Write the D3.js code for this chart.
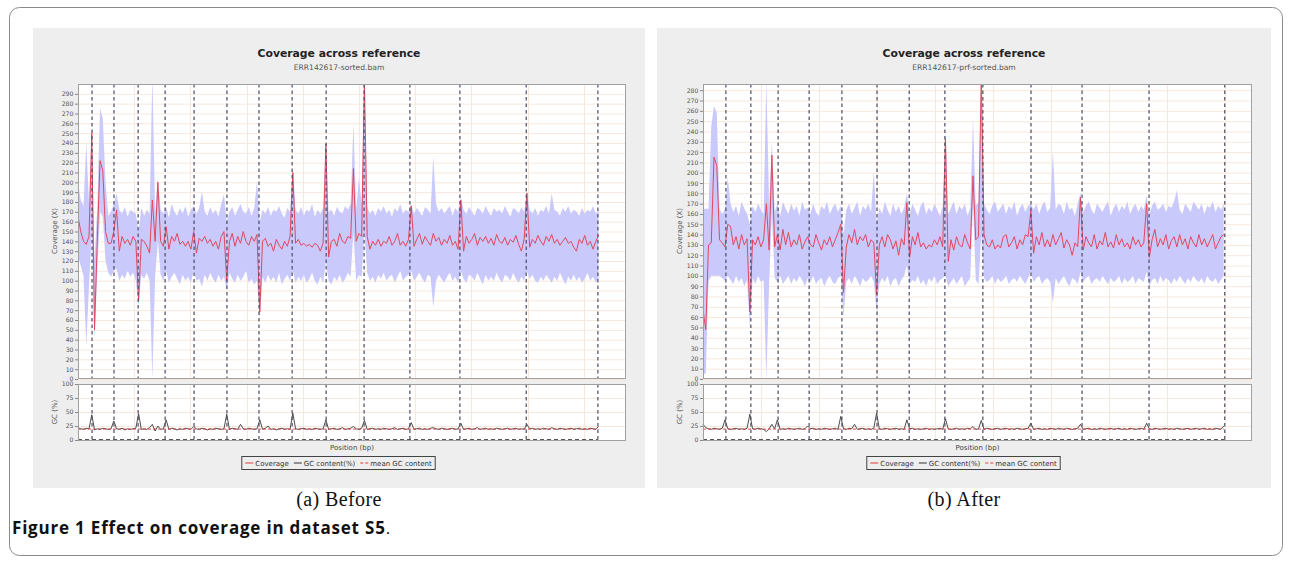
<!DOCTYPE html>
<html><head><meta charset="utf-8">
<script src="https://cdn.jsdelivr.net/npm/d3@7"></script>
<style>body{margin:0;background:#fff}svg{display:block}</style>
</head><body><svg id="c" width="1290" height="562"></svg>
<script>
// ---- data (window size in kb, one value per window) ----
const binKbA = 9.8, binKbB = 9.5;
const xMaxA = 1950, xMaxB = 1893;        // kb shown on x axis
const yMaxA = 300, yMaxB = 286;          // coverage axis maximum
const yTickMaxA = 290, yTickMaxB = 280;
const gcTicks = [0, 25, 50, 75, 100];
const boundariesA = [50,128,214,310,413,530,644,762,883,1018,1181,1359,1595,1850];
const boundariesB = [79,165,259,366,479,600,711,834,965,1131,1307,1538,1799];
const meanGcA = 19.5, meanGcB = 19.5;

const covMeanA = [
165,150,140,137,145,250,50,140,222,212,
150,138,138,150,172,130,145,138,142,136,
145,140,80,142,140,135,128,182,140,200,
140,135,155,132,145,140,148,137,140,135,
140,132,150,128,143,140,145,138,142,135,
140,132,145,150,100,140,148,135,145,138,
150,140,136,145,140,147,68,140,143,135,
138,130,142,136,132,140,135,145,210,138,
142,136,138,135,137,134,138,136,130,138,
239,124,140,142,135,148,140,138,145,143,
214,140,148,145,305,145,132,140,136,142,
135,140,138,145,136,140,148,136,140,135,
142,176,135,142,148,137,145,140,136,148,
140,144,136,142,138,146,136,140,132,182,
130,145,138,142,148,136,144,140,145,138,
143,136,147,140,138,144,136,142,139,146,
137,130,142,189,134,142,138,146,140,136,
145,140,147,138,142,136,140,144,138,140,
134,130,142,138,146,136,140,132,140,146];
const covUpperA = [
200,182,176,240,178,255,120,175,275,265,
200,166,170,178,189,172,168,175,165,172,
170,168,150,174,166,172,168,310,170,205,
172,168,175,164,178,170,166,174,168,176,
165,172,176,168,174,191,170,166,175,168,
172,165,178,188,160,170,175,166,172,178,
170,168,175,166,174,201,160,172,168,175,
166,172,170,176,168,164,174,170,215,172,
168,175,166,172,170,178,165,172,168,174,
240,170,172,166,175,170,168,176,172,178,
260,172,205,178,305,175,168,172,166,174,
170,176,168,172,165,174,170,178,168,172,
170,178,168,174,170,166,175,172,168,226,
178,170,174,168,172,176,166,174,170,185,
172,168,175,170,166,174,172,168,176,170,
166,174,170,172,168,176,170,165,174,172,
168,175,170,190,172,168,174,166,172,170,
176,168,189,172,170,166,174,170,176,168,
172,170,166,174,168,172,170,176,168,172];
const covLowerA = [
125,115,105,33,95,150,40,110,170,165,
120,108,104,110,112,100,106,102,110,104,
108,100,75,106,102,108,100,0,104,140,
106,100,110,98,104,108,102,96,106,100,
104,98,110,100,102,94,106,100,108,102,
98,106,100,104,90,108,102,98,106,100,
104,110,98,102,96,100,62,104,98,106,
100,104,98,108,96,102,106,100,110,98,
104,100,106,98,102,108,100,96,104,98,
120,100,96,104,100,106,98,102,108,104,
150,100,106,104,150,108,100,104,98,106,
102,108,100,104,106,98,104,110,100,104,
106,110,100,104,108,102,98,106,104,73,
100,106,102,98,104,108,100,104,98,110,
102,98,106,104,100,108,102,96,106,100,
104,100,108,102,98,106,104,100,108,102,
98,104,100,110,102,106,100,98,104,100,
106,102,98,104,100,108,102,96,104,100,
106,100,104,98,102,108,100,104,98,102];
const gcA = [
22,20,19,21,20,45,18,20,19,21,
20,19,20,34,20,19,21,18,20,19,
20,21,47,19,20,19,22,28,16,25,
19,20,36,19,21,20,18,20,19,21,
20,19,24,20,19,21,20,18,20,19,
21,20,19,20,46,19,21,20,19,28,
20,19,21,20,19,20,36,19,21,25,
19,20,18,20,21,19,20,19,48,20,
19,20,21,19,20,19,21,20,19,20,
36,19,20,21,19,20,22,19,20,21,
24,20,19,21,35,19,20,21,19,20,
19,21,20,19,20,22,19,20,21,19,
20,31,19,20,21,19,20,19,21,22,
20,19,21,20,19,20,21,19,20,30,
19,20,21,19,20,22,19,20,21,19,
20,19,21,20,19,20,21,19,20,21,
19,20,19,28,20,21,19,20,19,21,
20,19,22,20,19,21,20,19,20,21,
19,20,21,19,20,19,21,20,19,24];

const covMeanB = [
67,48,130,132,215,207,135,132,128,150,
148,130,138,126,140,130,136,65,135,130,
138,128,135,170,125,217,128,140,125,145,
130,142,128,135,130,140,126,133,138,130,
128,140,132,125,135,130,138,128,135,142,
150,84,128,140,132,145,130,138,134,140,
128,135,132,82,130,138,128,140,135,126,
134,120,136,130,171,118,138,130,142,128,
132,126,130,128,135,130,138,128,233,114,
135,125,138,130,128,140,132,126,197,135,
138,295,140,130,128,135,126,130,127,138,
140,128,132,138,126,135,130,140,138,163,
122,138,130,142,128,135,128,140,130,136,
142,127,135,130,120,132,128,176,125,138,
132,128,140,126,134,130,142,128,133,127,
140,130,136,128,132,126,138,130,135,128,
132,170,118,135,145,128,136,130,140,126,
134,138,128,140,130,136,126,138,132,128,
140,130,136,128,134,140,126,132,138,140];
const covUpperB = [
165,165,165,245,265,258,165,160,165,195,
170,162,168,158,172,165,160,150,168,162,
170,164,160,290,168,230,162,170,158,172,
165,160,170,163,168,158,172,164,166,160,
170,162,158,168,164,172,160,166,170,162,
168,140,164,170,160,166,172,158,168,164,
170,162,202,150,166,160,172,164,158,170,
162,168,160,166,180,160,170,164,158,168,
172,160,166,162,170,164,158,168,240,160,
166,172,160,168,164,170,158,166,252,168,
172,295,170,164,160,168,172,162,166,170,
160,168,164,172,158,166,170,162,168,170,
164,170,160,168,172,162,166,220,164,170,
168,160,172,164,166,158,170,180,162,168,
172,164,160,170,166,162,168,172,158,166,
170,162,168,164,172,160,166,170,162,168,
164,178,160,168,172,164,166,170,162,168,
166,172,183,164,160,170,166,162,172,168,
164,170,160,168,166,172,162,168,164,170];
const covLowerB = [
5,5,95,100,100,100,100,98,95,100,
96,92,100,94,98,90,96,50,98,92,
100,94,96,0,92,160,98,94,100,92,
96,100,92,98,94,100,96,90,98,94,
100,92,96,98,90,96,100,94,92,98,
100,60,94,98,92,100,96,90,98,94,
96,100,94,65,92,98,94,100,90,96,
98,90,96,100,110,92,96,94,100,92,
96,90,98,94,100,92,96,98,100,90,
94,98,92,96,100,90,94,98,170,96,
92,140,98,94,96,100,92,98,94,96,
100,92,96,98,94,100,96,92,98,104,
94,98,100,92,96,98,94,74,98,92,
96,100,94,90,98,96,92,104,94,98,
100,92,96,98,94,100,96,92,98,94,
96,100,92,98,94,96,100,92,98,96,
94,104,90,96,98,92,100,94,98,96,
92,98,94,100,96,92,98,94,100,96,
94,98,92,100,96,94,98,92,96,100];
const gcB = [
28,22,20,19,21,20,19,21,36,20,
19,20,21,19,20,19,21,46,20,19,
21,20,19,15,20,28,20,36,19,20,
19,21,20,19,20,21,19,20,25,20,
21,19,20,19,21,20,19,20,21,19,
42,20,19,21,20,28,19,20,21,19,
20,19,21,48,20,19,21,20,19,20,
21,19,20,19,36,20,21,19,20,19,
20,21,19,20,19,20,21,19,38,20,
19,20,21,19,20,19,21,20,24,19,
20,35,19,21,20,19,20,21,19,20,
21,19,20,19,21,20,19,20,21,30,
19,20,21,19,20,19,21,20,19,21,
20,19,21,20,19,20,21,28,19,20,
21,19,20,19,21,20,19,20,21,19,
20,21,19,20,19,21,20,19,20,21,
19,30,20,19,21,20,19,20,21,19,
20,19,21,20,19,20,21,19,20,21,
19,20,21,19,20,19,21,20,19,25];

const titleText = "Coverage across reference";
const subtitleA = "ERR142617-sorted.bam", subtitleB = "ERR142617-prf-sorted.bam";
const captionA = "(a) Before", captionB = "(b) After";
const legendItems = ["Coverage", "GC content(%)", "mean GC content"];

// ---- drawing ----
const svg = d3.select("#c");
const SANS = "'DejaVu Sans', sans-serif";

svg.append("rect").attr("x", 9.5).attr("y", 7.5).attr("width", 1273).attr("height", 548)
  .attr("rx", 10).attr("fill", "#fff").attr("stroke", "#8a8a8a").attr("stroke-width", 1);

function panel(o) {
  const g = svg.append("g");
  g.append("rect").attr("x", o.px0).attr("y", 28).attr("width", o.px1 - o.px0).attr("height", 460).attr("fill", "#eeeeee");
  const cx = (o.px0 + o.px1) / 2;
  g.append("text").attr("x", cx).attr("y", 57).attr("text-anchor", "middle")
    .attr("font-family", SANS).attr("font-weight", "bold").attr("font-size", 10.8).attr("fill", "#222").text(titleText);
  g.append("text").attr("x", cx).attr("y", 69.5).attr("text-anchor", "middle")
    .attr("font-family", SANS).attr("font-size", 7.6).attr("fill", "#555").text(o.subtitle);

  const x = d3.scaleLinear().domain([0, o.xMax]).range([o.L, o.R]);
  const y = d3.scaleLinear().domain([0, o.yMax]).range([379, 84]);
  const yg = d3.scaleLinear().domain([0, 100]).range([440, 384]);
  const grid = "#f8e8dc";
  const dataEnd = (o.mean.length - 1) * o.bin;

  const id = "clip" + o.key;
  svg.append("clipPath").attr("id", id).append("rect").attr("x", o.L).attr("y", 84).attr("width", o.R - o.L).attr("height", 295);

  // coverage plot
  g.append("rect").attr("x", o.L).attr("y", 84).attr("width", o.R - o.L).attr("height", 295).attr("fill", "#fff");
  const yt = d3.range(0, o.yTickMax + 1, 10);
  g.append("g").selectAll("line").data(yt).join("line")
    .attr("x1", o.L).attr("x2", o.R).attr("y1", d => y(d) + 0.5).attr("y2", d => y(d) + 0.5)
    .attr("stroke", grid).attr("stroke-width", 1);
  const xt = d3.range(200, o.xMax, 200);
  g.append("g").selectAll("line").data(xt).join("line")
    .attr("x1", d => Math.round(x(d)) + 0.5).attr("x2", d => Math.round(x(d)) + 0.5).attr("y1", 84).attr("y2", 379)
    .attr("stroke", grid);

  const cg = g.append("g").attr("clip-path", `url(#${id})`);
  cg.append("path").datum(o.mean)
    .attr("d", d3.area().x((d, i) => x(i * o.bin)).y0((d, i) => y(o.lower[i])).y1((d, i) => y(o.upper[i])))
    .attr("fill", "#c9c9fc");
  cg.append("path").datum(o.mean)
    .attr("d", d3.line().x((d, i) => x(i * o.bin)).y(d => y(d)))
    .attr("fill", "none").attr("stroke", "#e4475d").attr("stroke-width", 1);

  // gc plot
  g.append("rect").attr("x", o.L).attr("y", 384).attr("width", o.R - o.L).attr("height", 56).attr("fill", "#fff");
  g.append("g").selectAll("line").data(gcTicks.slice(1, 4)).join("line")
    .attr("x1", o.L).attr("x2", o.R).attr("y1", d => yg(d) + 0.5).attr("y2", d => yg(d) + 0.5).attr("stroke", grid);
  g.append("g").selectAll("line").data(xt).join("line")
    .attr("x1", d => Math.round(x(d)) + 0.5).attr("x2", d => Math.round(x(d)) + 0.5).attr("y1", 384).attr("y2", 440)
    .attr("stroke", grid);
  g.append("path").datum(o.gc)
    .attr("d", d3.line().x((d, i) => x(i * o.bin)).y(d => yg(d)))
    .attr("fill", "none").attr("stroke", "#3a3a3a").attr("stroke-width", 0.9);
  g.append("line").attr("x1", o.L).attr("x2", x(dataEnd)).attr("y1", yg(o.meanGc)).attr("y2", yg(o.meanGc))
    .attr("stroke", "#e33a3a").attr("stroke-width", 0.9).attr("stroke-dasharray", "3,2");

  // boundaries
  [[84, 379], [384, 440]].forEach(([a, b]) => {
    g.append("g").selectAll("line").data(o.bounds).join("line")
      .attr("x1", d => x(d)).attr("x2", d => x(d)).attr("y1", a).attr("y2", b)
      .attr("stroke", "#4b4b66").attr("stroke-width", 1.2).attr("stroke-dasharray", "3.5,3");
    g.append("line").attr("x1", o.L).attr("x2", x(o.bounds[o.bounds.length - 1])).attr("y1", b - 0.5).attr("y2", b - 0.5)
      .attr("stroke", "#555").attr("stroke-width", 1).attr("stroke-dasharray", "4,3");
  });

  // borders
  g.append("rect").attr("x", o.L + 0.5).attr("y", 84.5).attr("width", o.R - o.L - 1).attr("height", 294).attr("fill", "none").attr("stroke", "#a0a0a0");
  g.append("rect").attr("x", o.L + 0.5).attr("y", 384.5).attr("width", o.R - o.L - 1).attr("height", 56).attr("fill", "none").attr("stroke", "#a0a0a0");

  // axes
  const ax = g.append("g").attr("transform", `translate(${o.L},0)`)
    .call(d3.axisLeft(y).tickValues(yt).tickSize(3).tickSizeOuter(0).tickPadding(1.5));
  const axg = g.append("g").attr("transform", `translate(${o.L},0)`)
    .call(d3.axisLeft(yg).tickValues(gcTicks).tickSize(3).tickSizeOuter(0).tickPadding(1.5));
  [ax, axg].forEach(a => {
    a.select(".domain").remove();
    a.selectAll("line").attr("stroke", "#888");
    a.selectAll("text").attr("font-family", SANS).attr("font-size", 6.2).attr("fill", "#555");
  });
  g.append("text").attr("transform", `translate(${o.L - 21},${231}) rotate(-90)`).attr("text-anchor", "middle")
    .attr("font-family", SANS).attr("font-size", 7).attr("fill", "#555").text("Coverage (X)");
  g.append("text").attr("transform", `translate(${o.L - 21},${412}) rotate(-90)`).attr("text-anchor", "middle")
    .attr("font-family", SANS).attr("font-size", 7).attr("fill", "#555").text("GC (%)");
  g.append("text").attr("x", (o.L + o.R) / 2).attr("y", 450).attr("text-anchor", "middle")
    .attr("font-family", SANS).attr("font-size", 7).attr("fill", "#444").text("Position (bp)");

  // legend
  const lg = g.append("g");
  const box = lg.append("rect").attr("y", 456.5).attr("height", 13).attr("fill", "none").attr("stroke", "#444");
  let cur = 0;
  legendItems.forEach((t, k) => {
    lg.append("line").attr("x1", cur + 3).attr("x2", cur + 11).attr("y1", 463).attr("y2", 463)
      .attr("stroke", k === 1 ? "#333" : "#e33a3a").attr("stroke-width", 1)
      .attr("stroke-dasharray", k === 2 ? "3,2" : null);
    const tx = lg.append("text").attr("x", cur + 13).attr("y", 465.5)
      .attr("font-family", SANS).attr("font-size", 7).attr("fill", "#333").text(t);
    cur += 13 + tx.node().getComputedTextLength() + 2;
  });
  const w = cur + 2;
  lg.attr("transform", `translate(${cx - w / 2},0)`);
  box.attr("x", -0.5).attr("width", w);

  // caption
  svg.append("text").attr("x", cx).attr("y", 506).attr("text-anchor", "middle")
    .attr("font-family", "'Liberation Serif', serif").attr("font-size", 20).attr("letter-spacing", 0.4)
    .attr("fill", "#111").text(o.caption);
}

panel({key: "a", px0: 33, px1: 645, L: 78, R: 626, xMax: xMaxA, yMax: yMaxA, yTickMax: yTickMaxA, bin: binKbA,
  mean: covMeanA, upper: covUpperA, lower: covLowerA, gc: gcA, meanGc: meanGcA, bounds: boundariesA,
  subtitle: subtitleA, caption: captionA});
panel({key: "b", px0: 657, px1: 1271, L: 703, R: 1252, xMax: xMaxB, yMax: yMaxB, yTickMax: yTickMaxB, bin: binKbB,
  mean: covMeanB, upper: covUpperB, lower: covLowerB, gc: gcB, meanGc: meanGcB, bounds: boundariesB,
  subtitle: subtitleB, caption: captionB});

const fig = svg.append("text").attr("x", 12).attr("y", 534).attr("font-family", "'Open Sans', sans-serif")
  .attr("font-size", 17).attr("letter-spacing", 0.8).attr("fill", "#111");
fig.append("tspan").attr("font-weight", "bold").text("Figure 1 Effect on coverage in dataset S5");
fig.append("tspan").text(".");
</script></body></html>
